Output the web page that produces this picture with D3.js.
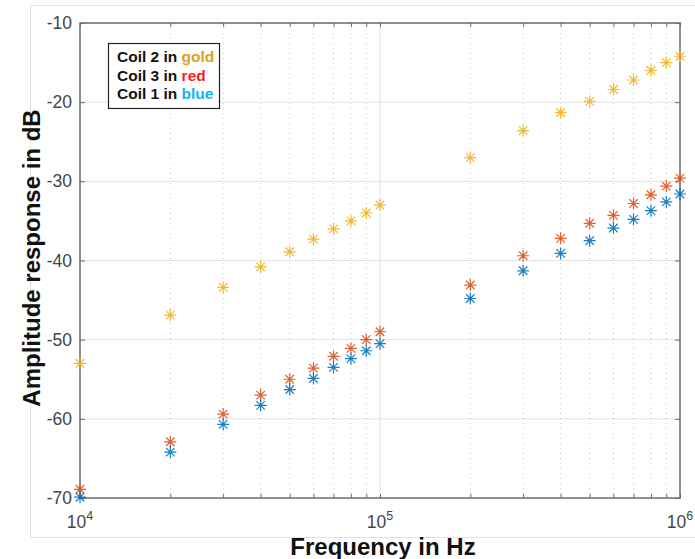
<!DOCTYPE html>
<html lang="en">
<head>
<meta charset="UTF-8" />
<title>Amplitude response</title>
<script src="https://d3js.org/d3.v7.min.js"></script>
<style>
  body { margin: 0; background: #fff; }
  text { font-family: "Liberation Sans", Arial, sans-serif; }
  .axis .domain { display: none; }
  .axis line { stroke: #6b6b6b; }
  .axis text { fill: #454545; font-size: 17.5px; }
</style>
</head>
<body>
<svg id="chart" width="695" height="559"></svg>
<script>
// frequencies (Hz)
const freqs = [1e4, 2e4, 3e4, 4e4, 5e4, 6e4, 7e4, 8e4, 9e4, 1e5,
               2e5, 3e5, 4e5, 5e5, 6e5, 7e5, 8e5, 9e5, 1e6];
// amplitude response in dB
const coil2 = [-53.0, -46.9, -43.4, -40.8, -38.9, -37.3, -36.0, -35.0, -34.0, -33.0,
               -27.0, -23.6, -21.3, -19.9, -18.4, -17.2, -16.0, -15.0, -14.2];
const coil3 = [-68.9, -62.9, -59.4, -57.0, -55.0, -53.6, -52.1, -51.1, -50.0, -49.0,
               -43.1, -39.4, -37.2, -35.3, -34.3, -32.8, -31.7, -30.6, -29.6];
const coil1 = [-69.9, -64.2, -60.7, -58.3, -56.3, -54.9, -53.5, -52.4, -51.4, -50.5,
               -44.8, -41.3, -39.1, -37.5, -35.9, -34.8, -33.7, -32.6, -31.6];
const yTicks = [-70, -60, -50, -40, -30, -20, -10];
const xMajor = [1e4, 1e5, 1e6];
const xMinor = [2e4, 3e4, 4e4, 5e4, 6e4, 7e4, 8e4, 9e4,
                2e5, 3e5, 4e5, 5e5, 6e5, 7e5, 8e5, 9e5];
const legendLines = [
  { label: "Coil 2 in ", word: "gold", color: "#d9a21b" },
  { label: "Coil 3 in ", word: "red", color: "#ff1a1a" },
  { label: "Coil 1 in ", word: "blue", color: "#17b1ee" }
];

const svg = d3.select("#chart");
const margin = { top: 23, right: 15, bottom: 61, left: 80 };
const plotW = 695 - margin.left - margin.right;
const plotH = 559 - margin.top - margin.bottom;

const xScale = d3.scaleLog().domain([1e4, 1e6]).range([0, plotW]);
const yScale = d3.scaleLinear().domain([-70, -10]).range([plotH, 0]);

// faint figure frame
svg.append("rect")
  .attr("x", 30.5).attr("y", 5.5)
  .attr("width", 670).attr("height", 532)
  .attr("fill", "none").attr("stroke", "#e3e3e3");

const plot = svg.append("g").attr("transform", `translate(${margin.left},${margin.top})`);

// gridlines
plot.append("g").selectAll("line").data(yTicks.slice(1, -1)).join("line")
  .attr("x1", 0).attr("x2", plotW)
  .attr("y1", d => yScale(d)).attr("y2", d => yScale(d))
  .attr("stroke", "#e2e2e2");
plot.append("g").selectAll("line").data(xMinor).join("line")
  .attr("x1", d => xScale(d)).attr("x2", d => xScale(d))
  .attr("y1", 0).attr("y2", plotH)
  .attr("stroke", "#c8c8c8").attr("stroke-dasharray", "1,4");
plot.append("line")
  .attr("x1", xScale(1e5)).attr("x2", xScale(1e5)).attr("y1", 0).attr("y2", plotH)
  .attr("stroke", "#e2e2e2");

// axes (ticks inward)
const allX = xMinor.concat(xMajor);
plot.append("g").attr("class", "axis").attr("transform", `translate(0,${plotH})`)
  .call(d3.axisBottom(xScale).tickValues(allX).tickSize(-4).tickFormat(""));
plot.append("g").attr("class", "axis")
  .call(d3.axisTop(xScale).tickValues(allX).tickSize(-4).tickFormat(""));
plot.append("g").attr("class", "axis")
  .call(d3.axisLeft(yScale).tickValues(yTicks).tickSize(-5).tickPadding(8).tickFormat(d => String(d)));
plot.append("g").attr("class", "axis").attr("transform", `translate(${plotW},0)`)
  .call(d3.axisRight(yScale).tickValues(yTicks).tickSize(-5).tickFormat(""));

// box
plot.append("rect").attr("width", plotW).attr("height", plotH)
  .attr("fill", "none").attr("stroke", "#6b6b6b").attr("stroke-width", 1.5);

// x tick labels 10^n
const xl = plot.append("g").selectAll("text").data(xMajor).join("text")
  .attr("x", d => xScale(d)).attr("y", plotH + 30)
  .attr("text-anchor", "middle").attr("fill", "#454545").style("font-size", "17.5px");
xl.append("tspan").text("10");
xl.append("tspan").attr("dy", -8).style("font-size", "12.5px").text(d => Math.round(Math.log10(d)));

// asterisk markers
const star = r => {
  const a = r * Math.SQRT1_2;
  return `M${-r},0L${r},0M0,${-r}L0,${r}M${-a},${-a}L${a},${a}M${-a},${a}L${a},${-a}`;
};
const series = [
  { vals: coil3, color: "#d95319" },
  { vals: coil1, color: "#0072bd" },
  { vals: coil2, color: "#edb120" }
];
series.forEach(s => {
  plot.append("g").selectAll("path").data(freqs).join("path")
    .attr("transform", (d, i) => `translate(${xScale(d)},${yScale(s.vals[i])})`)
    .attr("d", star(6))
    .attr("fill", "none").attr("stroke", s.color).attr("stroke-width", 1.2)
    .attr("stroke-opacity", 0.9);
});

// legend
svg.append("rect").attr("x", 108.5).attr("y", 43.5).attr("width", 111).attr("height", 65)
  .attr("fill", "#fff").attr("stroke", "#222").attr("stroke-width", 1.2);
const lt = svg.append("g").selectAll("text").data(legendLines).join("text")
  .attr("x", 117).attr("y", (d, i) => 62 + i * 18.5)
  .style("font-size", "15.5px").style("font-weight", "bold").attr("fill", "#111");
lt.append("tspan").text(d => d.label);
lt.append("tspan").attr("fill", d => d.color).text(d => d.word);

// axis titles
svg.append("text").attr("x", 383).attr("y", 555).attr("text-anchor", "middle")
  .style("font-size", "24px").style("font-weight", "bold").attr("fill", "#111")
  .text("Frequency in Hz");
svg.append("text").attr("transform", "translate(40,258) rotate(-90)").attr("text-anchor", "middle")
  .style("font-size", "24px").style("font-weight", "bold").attr("fill", "#111")
  .text("Amplitude response in dB");
</script>
</body>
</html>
